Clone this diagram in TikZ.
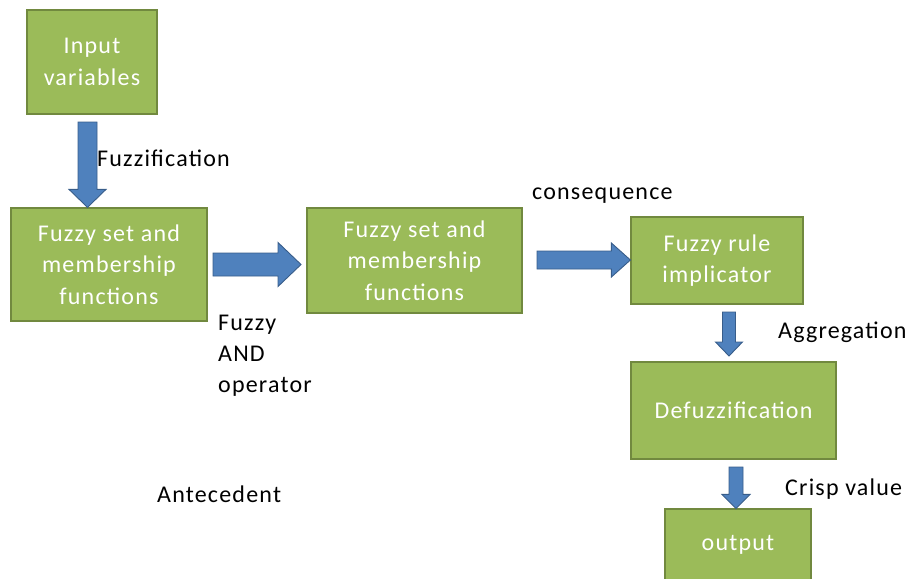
\documentclass[tikz,border=0pt]{standalone}
\usepackage{fontspec}
\setmainfont{Carlito}[LetterSpace=5]
\usetikzlibrary{calc}
\definecolor{boxgreen}{HTML}{9BBB59}
\definecolor{boxedge}{HTML}{71893F}
\definecolor{arrowblue}{HTML}{4F81BD}
\definecolor{arrowedge}{HTML}{385D8A}
\begin{document}
\begin{tikzpicture}[x=1pt,y=-1pt,
  stage/.style={draw=boxedge, fill=boxgreen, line width=1.2pt, text=white,
    align=center, inner sep=0pt, font=\fontsize{24}{31.5}\selectfont},
  note/.style={anchor=west, inner sep=0pt, text=black, align=left,
    font=\fontsize{24}{31}\selectfont},
  % block arrow: #1 half shaft width, #2 half head width, #3 head length
  barrow/.style n args={3}{fill=arrowblue, draw=arrowedge, line width=0.9pt, line join=miter,
    to path={($(\tikztotarget)!#3!(\tikztostart)$) coordinate (hs)
      ($(\tikztostart)!#1!90:(\tikztotarget)$) -- ($(hs)!#1!90:(\tikztotarget)$)
      -- ($(hs)!#2!90:(\tikztotarget)$) -- (\tikztotarget)
      -- ($(hs)!#2!-90:(\tikztotarget)$) -- ($(hs)!#1!-90:(\tikztotarget)$)
      -- ($(\tikztostart)!#1!-90:(\tikztotarget)$) -- cycle}}]
\useasboundingbox (0,0) rectangle (912,578);

% processing stages
\node[stage, minimum width=130pt, minimum height=104pt] (in) at (92,62) {Input\\variables};
\node[stage, minimum width=196pt, minimum height=113pt] (fz1) at (109,264.5) {Fuzzy set and\\membership\\functions};
\node[stage, minimum width=215pt, minimum height=105pt] (fz2) at (414.5,260.5) {Fuzzy set and\\membership\\functions};
\node[stage, minimum width=172pt, minimum height=87pt] (rule) at (717,260.5) {Fuzzy rule\\implicator};
\node[stage, minimum width=205pt, minimum height=97pt] (defz) at (733.5,410.5) {Defuzzification};
\node[stage, minimum width=146pt, minimum height=72pt] (out) at (738,545) {output};

% arrow ends
\coordinate (a1s) at (87.5,122);
\coordinate (a1e) at (a1s |- fz1.north);
\coordinate (a2s) at (213,264.5);
\coordinate (a2e) at (301,264.5);
\coordinate (a3s) at (537,260);
\coordinate (a3e) at (a3s -| rule.west);
\coordinate (a4s) at (729,312);
\coordinate (a4e) at (729,356);
\coordinate (a5s) at (736,467);
\coordinate (a5e) at (a5s |- out.north);

\path[barrow={9.5pt}{18.5pt}{18pt}] (a1s) to (a1e);
\path[barrow={11.5pt}{22pt}{23pt}] (a2s) to (a2e);
\path[barrow={9pt}{17pt}{19pt}] (a3s) to (a3e);
\path[barrow={6.5pt}{13.5pt}{14pt}] (a4s) to (a4e);
\path[barrow={7pt}{14pt}{14pt}] (a5s) to (a5e);

% labels
\node[note] (lfuzz) at (97,158) {Fuzzification};
\node[note, anchor=north west] (land) at (218,315) {Fuzzy\\AND\\operator};
\node[note] (lcons) at (532,196) {consequence};
\node[note] (lagg) at (778,332) {Aggregation};
\node[note] (lant) at (157,494) {Antecedent};
\node[note] (lcrisp) at (785,489) {Crisp value};
\end{tikzpicture}
\end{document}
